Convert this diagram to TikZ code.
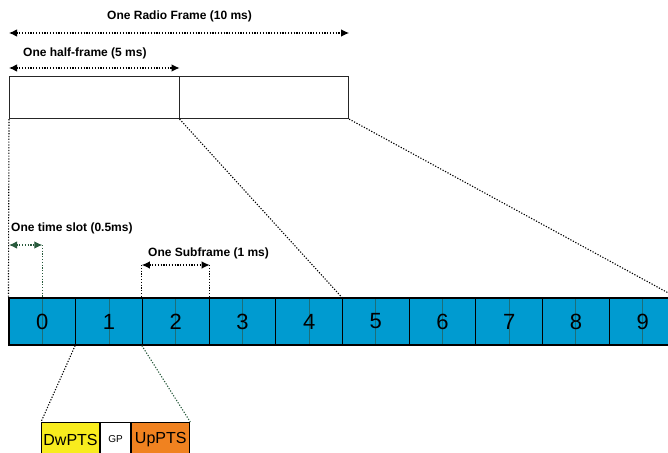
\documentclass[tikz,border=0pt]{standalone}
\usepackage{fontspec}
\setmainfont{Liberation Sans}
\usetikzlibrary{arrows.meta}
\definecolor{sfblue}{RGB}{0,155,208}
\definecolor{slotcol}{RGB}{30,110,120}
\definecolor{dkgreen}{RGB}{40,90,60}
\definecolor{dwyellow}{RGB}{248,236,30}
\definecolor{uporange}{RGB}{240,130,32}
\begin{document}
\begin{tikzpicture}[x=1pt,y=-1pt,
  half/.style={draw=black!85,line width=1.1pt,minimum width=169.5pt,minimum height=42pt,inner sep=0pt,anchor=north west},
  sfbox/.style={draw=black,line width=1.1pt,fill=sfblue,minimum width=66.7pt,minimum height=47pt,inner sep=0pt,
    font=\fontsize{22}{22}\selectfont,
    path picture={\draw[slotcol,line width=1pt] (path picture bounding box.north) -- (path picture bounding box.south);}},
  lbl/.style={font=\bfseries\fontsize{12}{13}\selectfont,inner sep=0pt,anchor=west},
  dotline/.style={dash pattern=on 1.2pt off 1.6pt,line width=1.1pt,black},
  gdotline/.style={dash pattern=on 1.2pt off 1.6pt,line width=1.1pt,dkgreen},
  dimarrow/.style={dash pattern=on 1.2pt off 1.6pt,line width=1.1pt,{Latex[length=8pt,width=7.5pt]}-{Latex[length=8pt,width=7.5pt]}},
  ptsbox/.style={draw=black,line width=1.1pt,minimum height=34pt,inner sep=0pt,anchor=north west}
]
\useasboundingbox (0,0) rectangle (668,452);
\clip (0,0) rectangle (668,452);

% half-frames
\node[half] (h1) at (9,76) {};
\node[half] (h2) at (178.5,76) {};

% labels and arrows at top
\node[lbl] (lrf) at (107,16) {One Radio Frame (10 ms)};
\node[lbl] (lhf) at (23,53) {One half-frame (5 ms)};
\draw[dimarrow] (h1.north west |- 0,33) -- (h2.north east |- 0,33);
\draw[dimarrow] (h1.north west |- 0,68) -- (h1.north east |- 0,68);

% subframes
\foreach \i in {0,...,9}{
  \node[sfbox] (s\i) at ({9+66.7*\i+33.35},321.5) {\i};
}

% frame-to-subframe connectors
\draw[dotline] (h1.south west) -- (s0.north west);
\draw[dotline] (h1.south east) -- (s5.north west);
\draw[dotline] (h2.south east) -- (s9.north east);

% time slot
\node[lbl] (lts) at (11,228) {One time slot (0.5ms)};
\coordinate (ts1) at (9,245);
\coordinate (ts2) at (s0.north |- ts1);
\draw[dimarrow,dkgreen] (ts1) -- (ts2);
\draw[gdotline] (ts2) -- (s0.north);

% subframe
\node[lbl] (lsf) at (148,253) {One Subframe (1 ms)};
\coordinate (sf1) at (s2.north west |- 0,265);
\coordinate (sf2) at (s2.north east |- 0,265);
\draw[dimarrow] (sf1) -- (sf2);
\draw[dotline] (sf1) -- (s2.north west);
\draw[dotline] (sf2) -- (s2.north east);

% special subframe
\node[ptsbox,fill=dwyellow,minimum width=58pt,font=\fontsize{16}{16}\selectfont] (dw) at (41,422) {DwPTS};
\node[ptsbox,fill=white,minimum width=30pt,font=\fontsize{10}{10}\selectfont] (gp) at (dw.north east) {GP};
\node[ptsbox,fill=uporange,minimum width=58pt,font=\fontsize{16}{16}\selectfont] (up) at (gp.north east) {UpPTS};
\draw[dotline] (s1.south west) -- (dw.north west);
\draw[gdotline] (s2.south west) -- (up.north east);
\end{tikzpicture}
\end{document}
